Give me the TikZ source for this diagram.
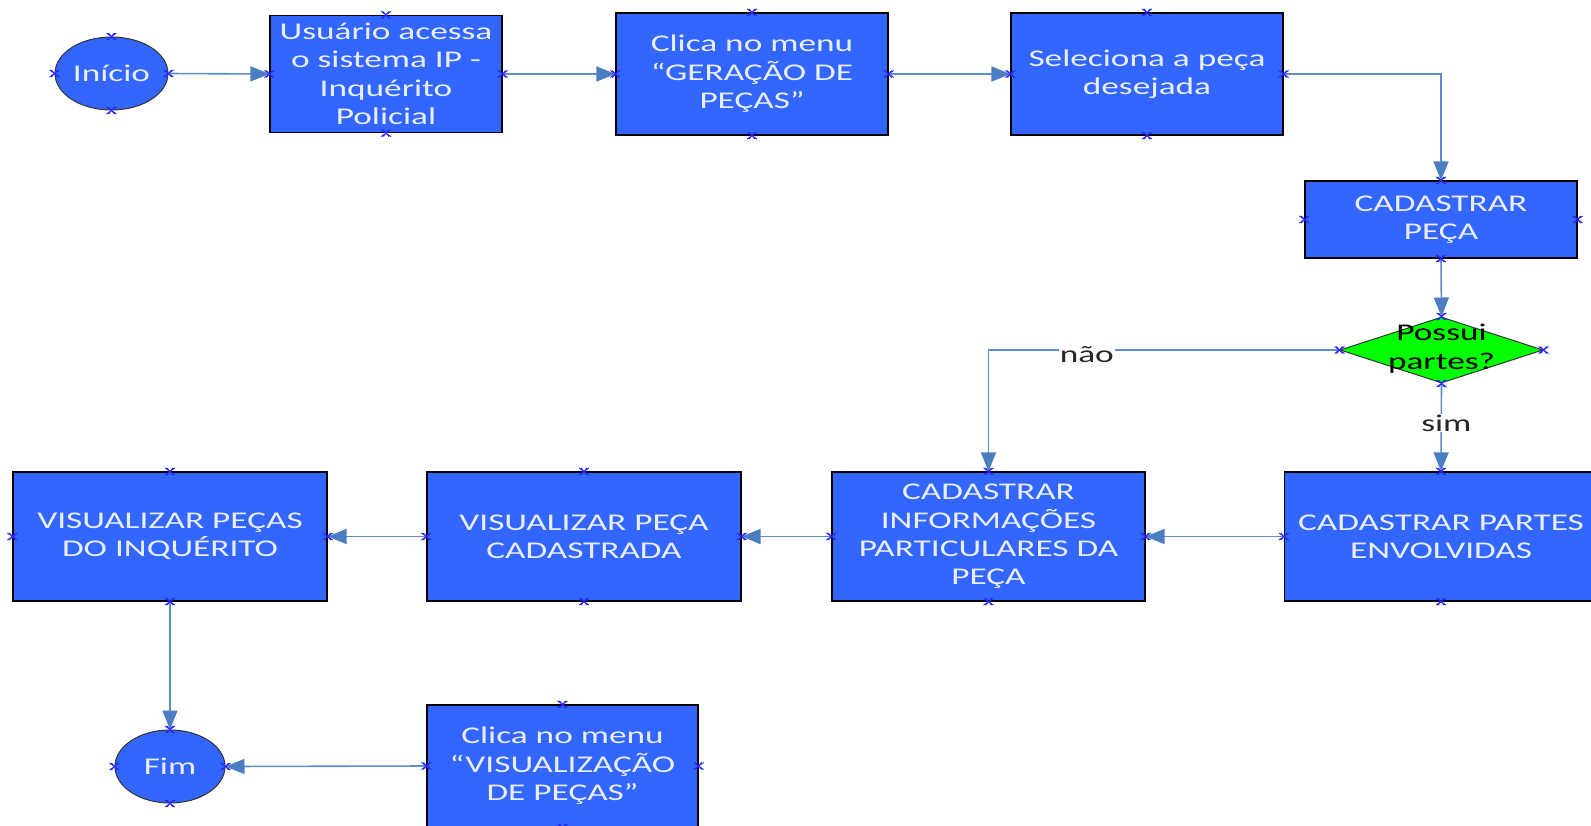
\documentclass[tikz,border=0pt]{standalone}
\usepackage{fontspec}
\setmainfont{Carlito}[FakeStretch=1.47]
\usetikzlibrary{shapes.geometric,arrows.meta}
\definecolor{boxblue}{RGB}{51,102,255}
\definecolor{linkblue}{RGB}{95,140,205}
\definecolor{tipblue}{RGB}{74,126,192}
\definecolor{txtwhite}{RGB}{232,238,255}
\definecolor{markblue}{RGB}{40,40,255}
\definecolor{dgreen}{RGB}{0,255,0}
\newcommand\xmarks[1]{\foreach \a in {north,south,east,west}{%
  \draw[markblue,line width=0.9pt] ([shift={(-5pt,-3.5pt)}]#1.\a) -- ([shift={(5pt,3.5pt)}]#1.\a)
        ([shift={(-5pt,3.5pt)}]#1.\a) -- ([shift={(5pt,-3.5pt)}]#1.\a)
        ([shift={(-3pt,-3.5pt)}]#1.\a) -- ([shift={(3pt,3.5pt)}]#1.\a)
        ([shift={(-3pt,3.5pt)}]#1.\a) -- ([shift={(3pt,-3.5pt)}]#1.\a);}}
\begin{document}
\begin{tikzpicture}[x=1pt,y=-1pt,
  txt/.style={font=\fontsize{24}{28.4}\selectfont},
  proc/.style={txt, draw=black, line width=1.2pt, fill=boxblue, text=txtwhite, align=center, inner sep=0pt},
  term/.style={txt, ellipse, draw=black!80, line width=1pt, fill=boxblue, text=txtwhite, inner sep=0pt},
  dec/.style={diamond, draw=black!80, line width=1pt, fill=dgreen, inner sep=0pt},
  link/.style={draw=linkblue, line width=1.6pt, -{Triangle[length=19pt,width=15pt,color=tipblue]}},
  lbl/.style={txt, fill=white, inner sep=1pt, text=black!85}]
\useasboundingbox (0,0) rectangle (1591,825);

\node[term, minimum width=113pt, minimum height=73pt] (ini) at (111.5,73.5) {Início};
\node[proc, minimum width=232pt, minimum height=117pt] (b1) at (386,74) {Usuário acessa\\o sistema IP -\\Inquérito\\Policial};
\node[proc, minimum width=272pt, minimum height=122pt] (b2) at (752,74) {Clica no menu\\“GERAÇÃO DE\\PEÇAS”};
\node[proc, minimum width=272pt, minimum height=122pt] (b3) at (1147,74) {Seleciona a peça\\desejada};
\node[proc, minimum width=272pt, minimum height=77pt] (cp) at (1441,219.5) {CADASTRAR\\PEÇA};
\node[dec, minimum width=203pt, minimum height=66pt] (dia) at (1441.5,350) {};
\node[txt, align=center, text=black] (diat) at (1441.5,348.5) {Possui\\partes?};
\node[proc, minimum width=313pt, minimum height=129pt] (cpa) at (1441,536.5) {CADASTRAR PARTES\\ENVOLVIDAS};
\node[proc, minimum width=313pt, minimum height=129pt] (ci) at (988.5,536.5) {CADASTRAR\\INFORMAÇÕES\\PARTICULARES DA\\PEÇA};
\node[proc, minimum width=314pt, minimum height=129pt] (vc) at (584,536.5) {VISUALIZAR PEÇA\\CADASTRADA};
\node[proc, minimum width=314pt, minimum height=129pt] (vp) at (170,536.5) {VISUALIZAR PEÇAS\\DO INQUÉRITO};
\node[term, minimum width=110pt, minimum height=73pt] (fim) at (170,766.5) {Fim};
\node[proc, minimum width=271pt, minimum height=122pt] (cl2) at (562.5,766) {Clica no menu\\“VISUALIZAÇÃO\\DE PEÇAS”};

\draw[link] (ini.east) -- (b1.west);
\draw[link] (b1.east) -- (b2.west);
\draw[link] (b2.east) -- (b3.west);
\draw[link] (b3.east) -| (cp.north);
\draw[link] (cp.south) -- (dia.north);
\draw[link] (dia.west) -| node[lbl, pos=0.36, yshift=-5pt] {não} (ci.north);
\draw[link] (dia.south) -- node[lbl, xshift=5pt, pos=0.45] {sim} (cpa.north);
\draw[link] (cpa.west) -- (ci.east);
\draw[link] (ci.west) -- (vc.east);
\draw[link] (vc.west) -- (vp.east);
\draw[link] (vp.south) -- (fim.north);
\draw[link] (cl2.west) -- (fim.east);

\foreach \n in {ini,b1,b2,b3,cp,dia,cpa,ci,vc,vp,fim,cl2}{\xmarks{\n}}
\end{tikzpicture}
\end{document}
